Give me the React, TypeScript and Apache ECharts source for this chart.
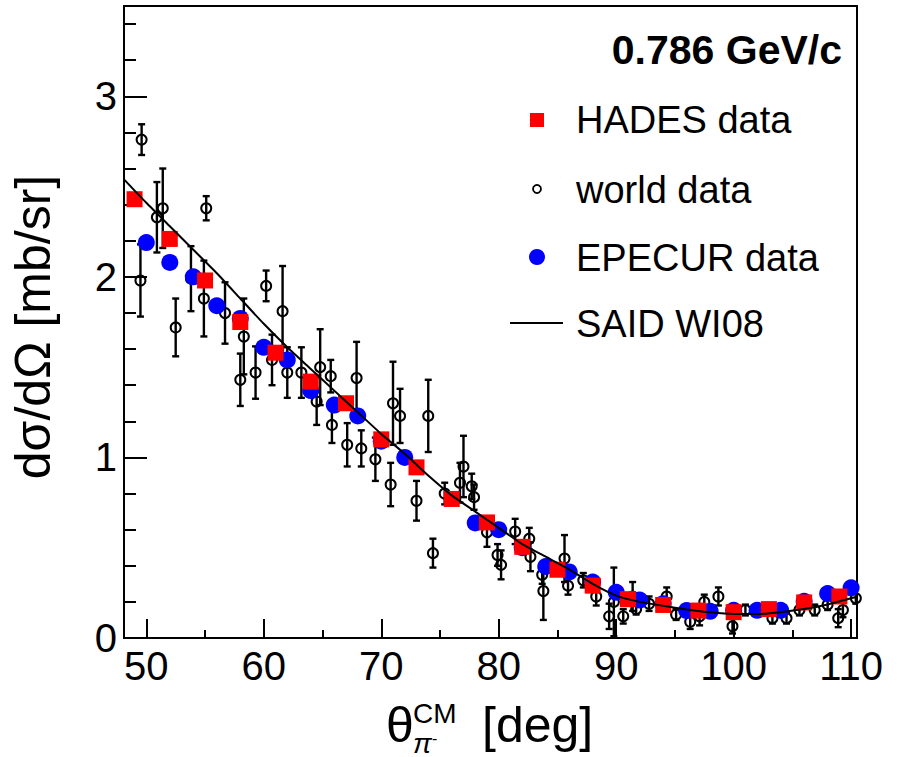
import React, { useEffect, useRef } from "react";
import * as echarts from "echarts";

// Axis extents (scattering angle in deg, cross section in mb/sr)
const X_RANGE = [48.1, 110.5];
const Y_RANGE = [0, 3.5];

const xMajorTicks = [50, 60, 70, 80, 90, 100, 110];
const xMinorTicks = [55, 65, 75, 85, 95, 105];
const yMajorTicks = [0, 1, 2, 3];
const yMinorTicks = [0.2, 0.4, 0.6, 0.8, 1.2, 1.4, 1.6, 1.8, 2.2, 2.4, 2.6, 2.8, 3.2, 3.4];

// HADES measurement
const hadesAngle = [49, 52, 55, 58, 61, 64, 67, 70, 73, 76, 79, 82, 85, 88, 91, 94, 97, 100, 103, 106, 109];
const hadesXsec = [2.43, 2.21, 1.98, 1.75, 1.58, 1.42, 1.3, 1.1, 0.945, 0.77, 0.64, 0.505, 0.378, 0.29, 0.215, 0.183, 0.152, 0.143, 0.16, 0.197, 0.23];

// EPECUR measurement
const epecurAngle = [50, 52, 54, 56, 58, 60, 62, 64, 66, 68, 70, 72, 78, 80, 82, 84, 86, 88, 90, 92, 94, 96, 98, 100, 102, 104, 106, 108, 110];
const epecurXsec = [2.19, 2.08, 2.0, 1.84, 1.77, 1.61, 1.54, 1.37, 1.29, 1.23, 1.09, 1.0, 0.637, 0.6, 0.5, 0.396, 0.366, 0.31, 0.253, 0.21, 0.19, 0.152, 0.148, 0.153, 0.153, 0.153, 0.203, 0.246, 0.278];

// World data with statistical errors
const worldAngle = [49.5, 49.6, 50.9, 51.4, 52.5, 53.8, 54.9, 55.1, 56.7, 58.0, 58.3, 59.3, 60.2, 60.7, 61.6, 62.0, 63.2, 64.5, 64.8, 65.7, 65.8, 67.1, 67.9, 68.3, 69.5, 70.8, 71.0, 71.6, 73.0, 74.0, 74.4, 75.4, 76.7, 77.0, 77.7, 77.9, 79.0, 79.9, 80.2, 81.4, 82.6, 82.7, 83.7, 83.8, 85.6, 85.9, 87.2, 88.3, 89.4, 89.8, 90.6, 91.4, 91.7, 92.8, 94.3, 95.1, 96.3, 97.1, 97.5, 98.7, 99.9, 101.0, 103.3, 104.5, 105.6, 106.9, 108.0, 108.9, 109.3, 110.4];
const worldXsec = [1.98, 2.76, 2.33, 2.38, 1.72, 1.99, 1.88, 2.38, 1.8, 1.43, 1.67, 1.47, 1.95, 1.54, 1.81, 1.47, 1.47, 1.31, 1.5, 1.45, 1.18, 1.07, 1.44, 1.05, 0.99, 0.85, 1.3, 1.23, 0.76, 1.23, 0.47, 0.8, 0.86, 0.95, 0.84, 0.78, 0.585, 0.46, 0.405, 0.59, 0.55, 0.45, 0.35, 0.26, 0.44, 0.29, 0.32, 0.23, 0.12, 0.2, 0.12, 0.23, 0.16, 0.19, 0.23, 0.13, 0.09, 0.12, 0.2, 0.23, 0.065, 0.155, 0.11, 0.11, 0.155, 0.155, 0.185, 0.11, 0.155, 0.22];
const worldError = [0.2, 0.085, 0.195, 0.22, 0.16, 0.18, 0.21, 0.067, 0.17, 0.145, 0.21, 0.145, 0.085, 0.14, 0.25, 0.14, 0.14, 0.13, 0.21, 0.09, 0.1, 0.12, 0.2, 0.1, 0.12, 0.12, 0.23, 0.15, 0.11, 0.2, 0.08, 0.06, 0.11, 0.17, 0.07, 0.07, 0.08, 0.06, 0.08, 0.07, 0.06, 0.08, 0.05, 0.16, 0.13, 0.05, 0.04, 0.05, 0.07, 0.19, 0.04, 0.08, 0.03, 0.04, 0.05, 0.03, 0.04, 0.05, 0.04, 0.05, 0.04, 0.03, 0.03, 0.03, 0.03, 0.03, 0.03, 0.05, 0.04, 0.03];

// SAID WI08 partial-wave solution
const saidAngle = [48.1, 50, 52, 54, 56, 58, 60, 62, 64, 66, 68, 70, 72, 74, 76, 78, 80, 82, 84, 86, 88, 90, 92, 94, 96, 98, 100, 102, 104, 106, 108, 110, 110.5];
const saidXsec = [2.54, 2.41, 2.28, 2.15, 2.02, 1.88, 1.74, 1.61, 1.49, 1.37, 1.25, 1.13, 1.02, 0.9, 0.79, 0.7, 0.61, 0.52, 0.45, 0.38, 0.3, 0.235, 0.2, 0.178, 0.158, 0.142, 0.133, 0.133, 0.143, 0.16, 0.186, 0.22, 0.23];

const FONT = '"Liberation Sans", Arial, Helvetica, sans-serif';

const zip = (xs: number[], ys: number[]) => xs.map((x, i) => [x, ys[i]]);

function txt(text: string, x: number, y: number, size: number, extra: any = {}) {
  return {
    type: "text",
    x,
    y,
    silent: true,
    style: {
      text,
      fill: "#000",
      fontFamily: FONT,
      fontSize: size,
      align: "left",
      verticalAlign: "middle",
      textAlign: "left",
      textVerticalAlign: "middle",
      ...extra,
    },
  };
}

export default function App() {
  const ref = useRef<HTMLDivElement>(null);

  useEffect(() => {
    if (!ref.current) return;
    const chart = echarts.init(ref.current, undefined, { renderer: "svg" });

    const baseX = {
      type: "value",
      min: X_RANGE[0],
      max: X_RANGE[1],
      position: "bottom",
      splitLine: { show: false },
    };
    const baseY = {
      type: "value",
      min: Y_RANGE[0],
      max: Y_RANGE[1],
      position: "left",
      splitLine: { show: false },
    };

    const option: any = {
      animation: false,
      backgroundColor: "#fff",
      grid: {
        left: 124,
        right: 40,
        top: 6,
        bottom: 119,
        show: true,
        borderColor: "#000",
        borderWidth: 2,
        backgroundColor: "transparent",
      },
      xAxis: [
        {
          ...baseX,
          axisLine: { show: true, lineStyle: { color: "#000", width: 2 } },
          axisTick: { show: true, inside: true, length: 19, customValues: xMajorTicks, lineStyle: { color: "#000", width: 2 } },
          axisLabel: { show: true, customValues: xMajorTicks, fontSize: 40, fontFamily: FONT, color: "#000", margin: 8 },
        },
        {
          ...baseX,
          axisLine: { show: false },
          axisTick: { show: true, inside: true, length: 8, customValues: xMinorTicks, lineStyle: { color: "#000", width: 2 } },
          axisLabel: { show: false },
        },
      ],
      yAxis: [
        {
          ...baseY,
          axisLine: { show: true, lineStyle: { color: "#000", width: 2 } },
          axisTick: { show: true, inside: true, length: 23, customValues: yMajorTicks, lineStyle: { color: "#000", width: 2 } },
          axisLabel: { show: true, customValues: yMajorTicks, fontSize: 40, fontFamily: FONT, color: "#000", margin: 7 },
        },
        {
          ...baseY,
          axisLine: { show: false },
          axisTick: { show: true, inside: true, length: 12, customValues: yMinorTicks, lineStyle: { color: "#000", width: 2 } },
          axisLabel: { show: false },
        },
      ],
      series: [
        {
          name: "world data errors",
          type: "custom",
          xAxisIndex: 0,
          yAxisIndex: 0,
          clip: true,
          silent: true,
          data: worldAngle.map((a, i) => [a, worldXsec[i], worldError[i]]),
          renderItem: (params: any, api: any) => {
            const x = api.value(0);
            const y = api.value(1);
            const e = api.value(2);
            const top = api.coord([x, y + e]);
            const bot = api.coord([x, y - e]);
            const cap = 3.5;
            const style = { stroke: "#000", lineWidth: 2.4 };
            return {
              type: "group",
              children: [
                { type: "line", shape: { x1: top[0], y1: top[1], x2: bot[0], y2: bot[1] }, style },
                { type: "line", shape: { x1: top[0] - cap, y1: top[1], x2: top[0] + cap, y2: top[1] }, style },
                { type: "line", shape: { x1: bot[0] - cap, y1: bot[1], x2: bot[0] + cap, y2: bot[1] }, style },
              ],
            };
          },
          z: 2,
        },
        {
          name: "world data",
          type: "scatter",
          symbol: "circle",
          symbolSize: 10,
          data: zip(worldAngle, worldXsec),
          itemStyle: { color: "rgba(0,0,0,0)", borderColor: "#000", borderWidth: 2, opacity: 1 },
          z: 3,
        },
        {
          name: "EPECUR data",
          type: "scatter",
          symbol: "circle",
          symbolSize: 17,
          data: zip(epecurAngle, epecurXsec),
          itemStyle: { color: "#0000ff", opacity: 1 },
          z: 4,
        },
        {
          name: "HADES data",
          type: "scatter",
          symbol: "rect",
          symbolSize: 16,
          data: zip(hadesAngle, hadesXsec),
          itemStyle: { color: "#ff0000", opacity: 1 },
          z: 5,
        },
        {
          name: "SAID WI08",
          type: "line",
          symbol: "none",
          smooth: 0.2,
          clip: true,
          data: zip(saidAngle, saidXsec),
          lineStyle: { color: "#000", width: 2 },
          z: 6,
        },
      ],
      graphic: [
        // beam momentum label
        txt("0.786 GeV/c", 842, 50, 41, { fontWeight: "bold", align: "right", textAlign: "right" }),
        // legend entries
        { type: "rect", silent: true, shape: { x: 530, y: 113, width: 14, height: 14 }, style: { fill: "#ff0000" } },
        txt("HADES data", 576, 120, 38),
        { type: "circle", silent: true, shape: { cx: 537, cy: 189, r: 4 }, style: { fill: "none", stroke: "#000", lineWidth: 1.8 } },
        txt("world data", 576, 190, 38),
        { type: "circle", silent: true, shape: { cx: 537, cy: 257, r: 8 }, style: { fill: "#0000ff" } },
        txt("EPECUR data", 576, 258, 38),
        { type: "line", silent: true, shape: { x1: 510, y1: 323, x2: 563, y2: 323 }, style: { stroke: "#000", lineWidth: 2 } },
        txt("SAID WI08", 576, 324, 38),
        // x axis title
        txt("θ", 386, 725, 50),
        txt("CM", 413, 713, 28),
        txt("π", 413, 743, 28, { fontStyle: "italic" }),
        txt("-", 432, 738, 16),
        txt("[deg]", 482, 725, 50),
        // y axis title
        {
          type: "text",
          x: 33,
          y: 327,
          rotation: Math.PI / 2,
          silent: true,
          style: {
            text: "dσ/dΩ [mb/sr]",
            fill: "#000",
            fontFamily: FONT,
            fontSize: 50,
            align: "center",
            verticalAlign: "middle",
            textAlign: "center",
            textVerticalAlign: "middle",
          },
        },
      ],
    };

    chart.setOption(option);
    return () => chart.dispose();
  }, []);

  return (
    <div
      ref={ref}
      style={{ position: "absolute", left: 0, top: 0, width: 897, height: 757 }}
    />
  );
}
